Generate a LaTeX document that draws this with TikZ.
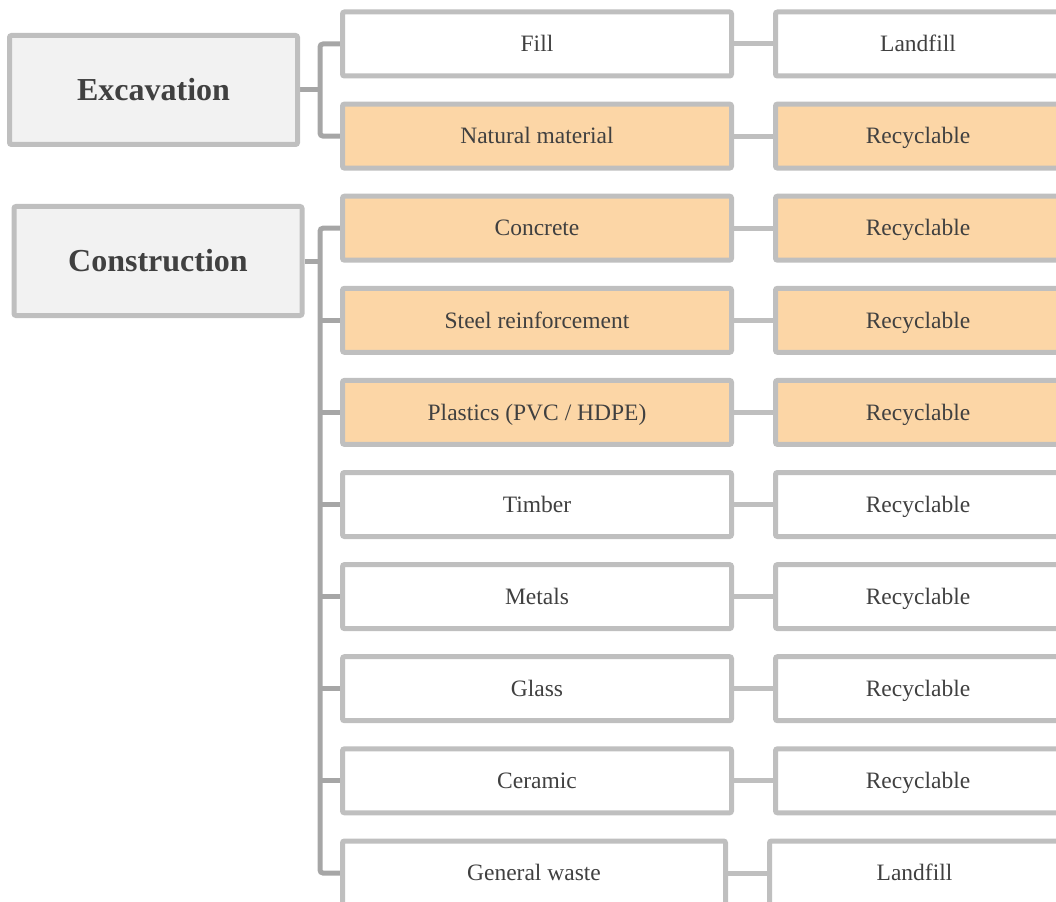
\documentclass[tikz,border=0pt]{standalone}
\usepackage{fontspec}
\setmainfont{Liberation Serif}
\usetikzlibrary{backgrounds}
\definecolor{bordergray}{RGB}{191,191,191}
\definecolor{conngray}{RGB}{166,166,166}
\definecolor{textgray}{RGB}{64,64,64}
\definecolor{headfill}{RGB}{242,242,242}
\definecolor{recfill}{RGB}{252,214,166}
\begin{document}
\begin{tikzpicture}[x=1pt,y=-1pt,
  box/.style={draw=bordergray, line width=5pt, rounded corners=2pt, fill=white,
    text=textgray, font=\fontsize{23.5}{28}\selectfont, inner sep=0pt,
    minimum height=64pt, text height=15.5pt, text depth=0pt},
  mid/.style={box, minimum width=389pt},
  res/.style={box, minimum width=285pt},
  hl/.style={fill=recfill},
  head/.style={box, fill=headfill, font=\fontsize{32}{38}\selectfont\bfseries,
    minimum width=288pt, minimum height=109pt, text height=21.2pt},
  tree/.style={draw=conngray, line width=5pt, rounded corners=3pt},
  link/.style={draw=bordergray, line width=5pt}]
\useasboundingbox (0,0) rectangle (1056,901);
\clip (0,0) rectangle (1056,901);

\node[head] (exc) at (153.5,90) {Excavation};
\node[head] (con) at (158,261) {Construction};

\node[mid] (m0) at (537,44) {Fill};
\node[mid,hl] (m1) at (537,136.1) {Natural material};
\node[mid,hl] (m2) at (537,228.2) {Concrete};
\node[mid,hl] (m3) at (537,320.3) {Steel reinforcement};
\node[mid,hl] (m4) at (537,412.4) {Plastics (PVC / HDPE)};
\node[mid] (m5) at (537,504.5) {Timber};
\node[mid] (m6) at (537,596.6) {Metals};
\node[mid] (m7) at (537,688.7) {Glass};
\node[mid] (m8) at (537,780.8) {Ceramic};
\node[mid, minimum width=383pt] (m9) at (534,873) {General waste};

\node[res] (r0) at (918,44) {Landfill};
\node[res,hl] (r1) at (918,136.1) {Recyclable};
\node[res,hl] (r2) at (918,228.2) {Recyclable};
\node[res,hl] (r3) at (918,320.3) {Recyclable};
\node[res,hl] (r4) at (918,412.4) {Recyclable};
\node[res] (r5) at (918,504.5) {Recyclable};
\node[res] (r6) at (918,596.6) {Recyclable};
\node[res] (r7) at (918,688.7) {Recyclable};
\node[res] (r8) at (918,780.8) {Recyclable};
\node[res, minimum width=290pt] (r9) at (914.5,873) {Landfill};

\coordinate (j1) at (320,90);
\coordinate (j2) at (320,261);

\begin{scope}[on background layer]
  \draw[tree] (exc.east) -- (j1);
  \draw[tree] (m0.west) -| (j1) |- (m1.west);
  \draw[tree] (con.east) -- (j2);
  \draw[tree] (m2.west) -| (j2) |- (m9.west);
  \foreach \i in {3,...,8} {
    \draw[tree] (m\i.west) -- (m\i.west -| j2);
  }
  \foreach \i in {0,...,9} {
    \draw[link] (m\i.east) -- (r\i.west);
  }
\end{scope}
\end{tikzpicture}
\end{document}
